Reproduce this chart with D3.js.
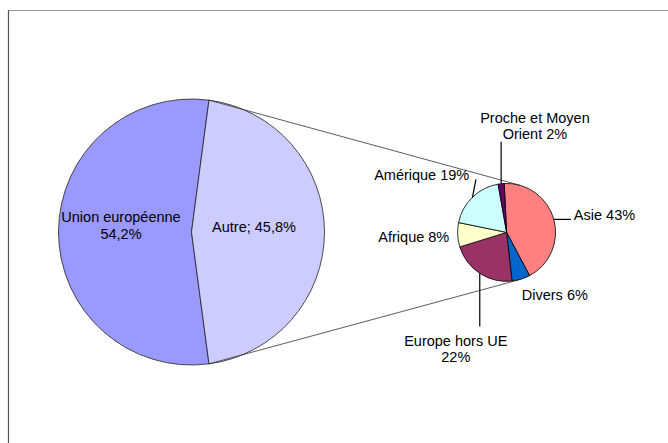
<!DOCTYPE html>
<html>
<head>
<meta charset="utf-8">
<script src="https://cdn.jsdelivr.net/npm/d3@7"></script>
<style>
  html, body { margin: 0; padding: 0; background: #fff; }
  svg { display: block; }
  text { font-family: "Liberation Sans", Arial, sans-serif; font-size: 14.5px; fill: #000; }
</style>
</head>
<body>
<svg id="chart" width="668" height="443"></svg>
<script>
// ---- data ----
const bigCategories = ["Union européenne", "Autre"];
const bigValues = [54.2, 45.8];
const bigLabels = [["Union européenne", "54,2%"], ["Autre; 45,8%"]];
const bigColors = ["#9999FF", "#CCCCFF"];

const smallCategories = ["Asie", "Divers", "Europe hors UE", "Afrique", "Amérique", "Proche et Moyen Orient"];
const smallValues = [43, 6, 22, 8, 19, 2];
const smallLabels = [["Asie 43%"], ["Divers 6%"], ["Europe hors UE", "22%"], ["Afrique 8%"], ["Amérique 19%"], ["Proche et Moyen", "Orient 2%"]];
const smallColors = ["#FF8080", "#0066CC", "#993366", "#FFFFCC", "#CCFFFF", "#660066"];

// ---- layout ----
const svg = d3.select("#chart");
const big = { cx: 191.5, cy: 232, r: 133 };
const small = { cx: 506.6, cy: 232.4, r: 49 };
const lineH = 16.4;

// frame
svg.append("line").attr("x1", 8).attr("y1", 10.5).attr("x2", 668).attr("y2", 10.5)
  .attr("stroke", "#999").attr("stroke-width", 1.2);
svg.append("line").attr("x1", 8.5).attr("y1", 10).attr("x2", 8.5).attr("y2", 443)
  .attr("stroke", "#555").attr("stroke-width", 1.2);

// big pie: "Autre" centred on the right (pi/2)
const autreFrac = bigValues[1] / d3.sum(bigValues);
const bigStart = Math.PI / 2 - autreFrac * Math.PI - (1 - autreFrac) * 2 * Math.PI;
const bigPie = d3.pie().sort(null).value(d => d).startAngle(bigStart).endAngle(bigStart + 2 * Math.PI);
const bigArcs = bigPie(bigValues);
const bigArc = d3.arc().innerRadius(0).outerRadius(big.r);
const gBig = svg.append("g").attr("transform", `translate(${big.cx},${big.cy})`);
gBig.selectAll("path").data(bigArcs).join("path")
  .attr("d", bigArc).attr("fill", (d, i) => bigColors[i])
  .attr("stroke", "#222").attr("stroke-width", 0.8);

// small pie
const smallStart = -2.8 * Math.PI / 180;
const smallPie = d3.pie().sort(null).value(d => d).startAngle(smallStart).endAngle(smallStart + 2 * Math.PI);
const smallArcs = smallPie(smallValues);
const smallArc = d3.arc().innerRadius(0).outerRadius(small.r);
const gSmall = svg.append("g").attr("transform", `translate(${small.cx},${small.cy})`);
gSmall.selectAll("path").data(smallArcs).join("path")
  .attr("d", smallArc).attr("fill", (d, i) => smallColors[i])
  .attr("stroke", "#000").attr("stroke-width", 0.8);

// connector lines: from edges of "Autre" slice to tangents of small pie
function polar(c, r, a) { return [c.cx + r * Math.sin(a), c.cy - r * Math.cos(a)]; }
const autre = bigArcs[1];
const pTop = polar(big, big.r, autre.startAngle);
const pBot = polar(big, big.r, autre.endAngle);
function tangent(p, upper) {
  const dx = p[0] - small.cx, dy = p[1] - small.cy;
  const dist = Math.hypot(dx, dy);
  const base = Math.atan2(dy, dx);
  const off = Math.acos(small.r / dist);
  const a = upper ? base + off : base - off;
  return [small.cx + small.r * Math.cos(a), small.cy + small.r * Math.sin(a)];
}
const tTop = tangent(pTop, true);
const tBot = tangent(pBot, false);
[[pTop, tTop], [pBot, tBot]].forEach(([a, b]) => {
  svg.append("line").attr("x1", a[0]).attr("y1", a[1]).attr("x2", b[0]).attr("y2", b[1])
    .attr("stroke", "#333").attr("stroke-width", 0.8);
});

// big labels (offsets from centre)
const bigLabelPos = [{ dx: -70.5, dy: -9.7, anchor: "middle" }, { dx: 62.5, dy: -0.3, anchor: "middle" }];
bigLabels.forEach((lines, i) => {
  const p = bigLabelPos[i];
  const t = svg.append("text").attr("text-anchor", p.anchor);
  lines.forEach((s, k) => t.append("tspan").attr("x", big.cx + p.dx).attr("y", big.cy + p.dy + k * lineH).text(s));
});

// small labels (offsets from outer point at slice mid-angle)
const smallLabelPos = [
  { tx: 20, ty: 0.6, anchor: "start", leader: [17, 0] },
  { tx: 0.7, ty: 20.8, anchor: "start", leader: null },
  { tx: -24, ty: 72.5, anchor: "middle", leader: [0, 53] },
  { tx: -8.4, ty: 7.6, anchor: "end", leader: null },
  { tx: -3.2, ty: -17.2, anchor: "end", leader: [3.5, -18] },
  { tx: 33.8, ty: -60.7, anchor: "middle", leader: [0, -42] }
];
smallArcs.forEach((d, i) => {
  const mid = (d.startAngle + d.endAngle) / 2;
  const a = polar(small, small.r, mid);
  const p = smallLabelPos[i];
  if (p.leader) {
    svg.append("line").attr("x1", a[0]).attr("y1", a[1])
      .attr("x2", a[0] + p.leader[0]).attr("y2", a[1] + p.leader[1])
      .attr("stroke", "#000").attr("stroke-width", 1.2);
  }
  const t = svg.append("text").attr("text-anchor", p.anchor);
  smallLabels[i].forEach((s, k) => t.append("tspan").attr("x", a[0] + p.tx).attr("y", a[1] + p.ty + k * lineH).text(s));
});
</script>
</body>
</html>
